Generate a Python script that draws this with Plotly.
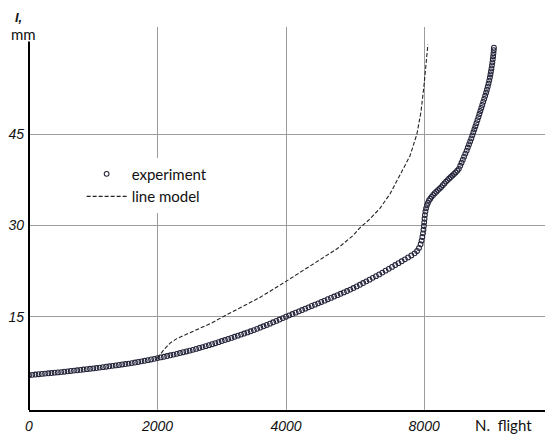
import plotly.graph_objects as go

# ---- data ----
exp_x = [0, 50, 100, 150, 200, 250, 300, 350, 400, 450, 500,
         550, 600, 650, 700, 750, 800, 850, 900, 950, 1000,
         1050, 1100, 1150, 1200, 1250, 1300, 1350, 1400, 1450, 1500,
         1550, 1600, 1650, 1700, 1750, 1800, 1850, 1900, 1950, 2000,
         2050, 2100, 2150, 2200, 2250, 2300, 2350, 2400, 2450, 2500,
         2550, 2600, 2650, 2700, 2750, 2800, 2850, 2900, 2950, 3000,
         3050, 3100, 3150, 3200, 3250, 3300, 3350, 3400, 3450, 3500,
         3550, 3600, 3650, 3700, 3750, 3800, 3850, 3900, 3950, 4000,
         4050, 4100, 4150, 4200, 4250, 4300, 4350, 4400, 4450, 4500,
         4550, 4600, 4650, 4700, 4750, 4800, 4850, 4900, 4950, 5000,
         5050, 5100, 5150, 5200, 5250, 5300, 5350, 5400, 5450, 5500,
         5550, 5600, 5650, 5700, 5750, 5800, 5850, 5900, 5950, 6000,
         6040, 6070, 6095, 6110, 6122, 6132, 6140, 6146, 6151, 6156, 6162, 6170, 6180,
         6193, 6208, 6225, 6245, 6265, 6290, 6315, 6340, 6365, 6390, 6415, 6440, 6465,
         6490, 6515, 6540, 6565, 6590, 6615, 6640, 6665, 6690, 6712, 6732, 6752, 6772,
         6792, 6812, 6830, 6848, 6866, 6884, 6900, 6916, 6932, 6948, 6964, 6980, 6995,
         7010, 7025, 7040, 7055, 7070, 7085, 7100, 7114, 7127, 7140, 7152, 7163, 7173,
         7182, 7190, 7198, 7205, 7212, 7218, 7224, 7229, 7233, 7236]
exp_y = [5.40, 5.45, 5.50, 5.55, 5.60, 5.65, 5.70, 5.75, 5.80, 5.85, 5.90,
         5.96, 6.02, 6.08, 6.14, 6.20, 6.26, 6.32, 6.38, 6.44, 6.50,
         6.57, 6.64, 6.71, 6.78, 6.85, 6.93, 7.00, 7.07, 7.15, 7.22,
         7.30, 7.38, 7.47, 7.56, 7.66, 7.76, 7.86, 7.97, 8.08, 8.20,
         8.31, 8.42, 8.54, 8.66, 8.78, 8.90, 9.03, 9.16, 9.29, 9.42,
         9.56, 9.71, 9.86, 10.01, 10.16, 10.32, 10.48, 10.64, 10.82, 11.00,
         11.17, 11.34, 11.52, 11.70, 11.88, 12.06, 12.24, 12.42, 12.61, 12.80,
         13.01, 13.22, 13.43, 13.64, 13.86, 14.08, 14.31, 14.54, 14.77, 15.00,
         15.22, 15.44, 15.66, 15.88, 16.10, 16.32, 16.54, 16.76, 16.98, 17.20,
         17.42, 17.64, 17.87, 18.09, 18.31, 18.54, 18.77, 18.99, 19.22, 19.45,
         19.71, 19.98, 20.25, 20.53, 20.81, 21.09, 21.38, 21.66, 21.95, 22.25,
         22.56, 22.87, 23.18, 23.49, 23.80, 24.11, 24.42, 24.74, 25.06, 25.40,
         25.8, 26.3, 26.9, 27.5, 28.1, 28.7, 29.3, 29.9, 30.5, 31.1, 31.7, 32.3, 32.8,
         33.3, 33.7, 34.1, 34.4, 34.7, 35.0, 35.3, 35.55, 35.8, 36.05, 36.3, 36.6, 36.9,
         37.2, 37.45, 37.7, 37.95, 38.2, 38.45, 38.7, 39.0, 39.3, 39.8, 40.3, 40.8, 41.3,
         41.8, 42.3, 42.8, 43.3, 43.8, 44.3, 44.8, 45.3, 45.8, 46.3, 46.8, 47.3, 47.8,
         48.3, 48.8, 49.3, 49.8, 50.3, 50.8, 51.3, 51.8, 52.3, 52.8, 53.3, 53.8, 54.3,
         54.8, 55.3, 55.8, 56.3, 56.8, 57.3, 57.8, 58.3, 58.8, 59.2]

model_x = [2000, 2100, 2200, 2300, 2450, 2650, 2850, 3020, 3300, 3600, 4000, 4300, 4530,
           4800, 5040, 5150, 5300, 5462, 5620, 5773, 5929, 6037, 6100, 6146, 6177, 6208]
model_y = [8.2, 9.6, 10.7, 11.4, 12.1, 13.0, 14.0, 15.0, 16.6, 18.2, 20.8, 22.8, 24.3,
           26.2, 28.3, 29.6, 31.0, 32.8, 35.2, 38.2, 41.4, 45.0, 48.6, 52.8, 56.7, 59.7]

x_tick_vals = [0, 2000, 4000, 6150]
x_tick_text = ["0", "2000", "4000", "8000"]
y_tick_vals = [15, 30, 45, 62.6]
y_tick_text = ["15", "30", "45", ""]
y_axis_top = 60.2   # the drawn left axis stops a little below the top frame line

fig = go.Figure()
fig.add_trace(go.Scatter(
    x=exp_x, y=exp_y, mode="markers", name="experiment",
    marker=dict(symbol="circle-open", size=4.8, color="#23233a", line=dict(width=1.05)),
))
fig.add_trace(go.Scatter(
    x=model_x, y=model_y, mode="lines", name="line model",
    line=dict(color="#222222", width=1.1, dash="4px,2px"),
))

tickfont = dict(family="Liberation Sans, Arial, sans-serif", size=14, color="#111111", style="italic")

fig.update_layout(
    width=545, height=434,
    margin=dict(l=29, r=0, t=27, b=21),
    paper_bgcolor="white", plot_bgcolor="white",
    showlegend=True,
    legend=dict(
        x=0.102, y=0.659, xanchor="left", yanchor="top",
        bgcolor="white", borderwidth=0,
        font=dict(family="Lato, Open Sans, sans-serif", size=15, color="#111111"),
        tracegroupgap=0, itemwidth=40,
    ),
    xaxis=dict(
        range=[0, 8031], tickvals=x_tick_vals, ticktext=x_tick_text,
        showgrid=True, gridcolor="#9c9c9c", gridwidth=1.4,
        showline=True, linecolor="#000000", linewidth=2,
        zeroline=False, ticks="", tickfont=tickfont, ticklabelstandoff=2,
    ),
    yaxis=dict(
        range=[-0.33, 62.6], tickvals=y_tick_vals, ticktext=y_tick_text,
        showgrid=True, gridcolor="#9c9c9c", gridwidth=1.4,
        showline=False,
        zeroline=False, ticks="", tickfont=tickfont, ticklabelstandoff=4,
    ),
    shapes=[
        dict(type="line", xref="paper", yref="y", x0=0, x1=0, y0=-0.33, y1=y_axis_top,
             line=dict(color="#000000", width=2), layer="above"),
    ],
    annotations=[
        dict(text="<b>I,</b>", xref="paper", yref="paper", x=-0.02, y=1.026,
             xanchor="center", yanchor="middle", showarrow=False,
             font=dict(family="Liberation Sans, Arial, sans-serif", size=13, style="italic", color="#111111")),
        dict(text="mm", xref="paper", yref="paper", x=-0.01, y=0.981,
             xanchor="center", yanchor="middle", showarrow=False,
             font=dict(family="Lato, Open Sans, sans-serif", size=15, color="#111111")),
        dict(text="N.  flight", xref="paper", yref="paper", x=0.919, y=-0.038,
             xanchor="center", yanchor="middle", showarrow=False,
             font=dict(family="Lato, Open Sans, sans-serif", size=15, color="#111111")),
    ],
)

fig.write_html("out.html")
